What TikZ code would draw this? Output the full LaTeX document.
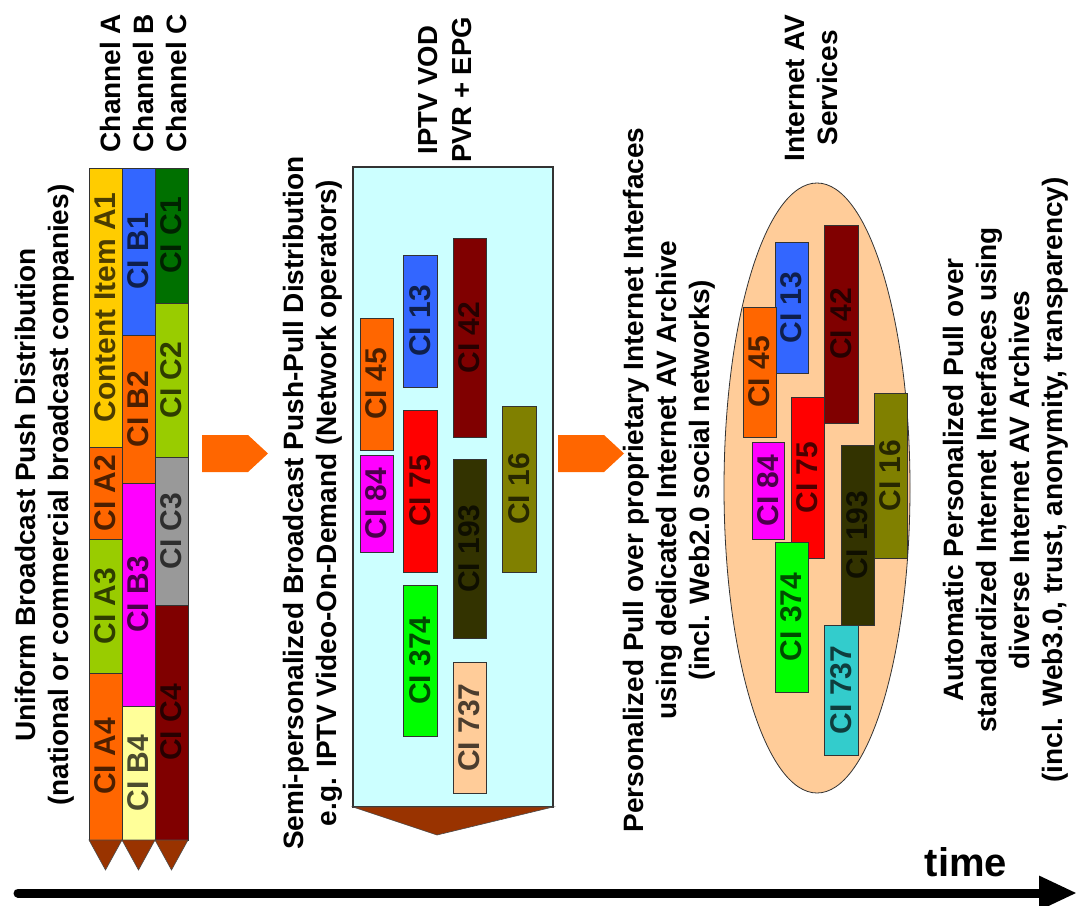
\documentclass[tikz,border=0pt]{standalone}
\usepackage{fontspec}
\setmainfont{Liberation Sans}
\usetikzlibrary{arrows.meta}

\definecolor{cigold}{HTML}{FFCC00}
\definecolor{ciblue}{HTML}{3366FF}
\definecolor{cidkgreen}{HTML}{007000}
\definecolor{ciorange}{HTML}{FF6600}
\definecolor{cilime}{HTML}{99CC00}
\definecolor{cigray}{HTML}{999999}
\definecolor{cimagenta}{HTML}{FF00FF}
\definecolor{cimaroon}{HTML}{800000}
\definecolor{cicream}{HTML}{FFFF99}
\definecolor{cired}{HTML}{FF0000}
\definecolor{cimud}{HTML}{333300}
\definecolor{ciolive}{HTML}{808000}
\definecolor{cigreen}{HTML}{00FF00}
\definecolor{cipeach}{HTML}{FFCC99}
\definecolor{citeal}{HTML}{33CCCC}
\definecolor{cicyan}{HTML}{CCFFFF}
\definecolor{citip}{HTML}{993300}

\begin{document}
\begin{tikzpicture}[x=1pt, y=-1pt,
	ci/.style={draw=black!80, line width=0.8pt, fill=#1, text=#1!30!black, rotate=90, inner sep=0pt, font=\bfseries\fontsize{30}{34}\selectfont},
	heading/.style={rotate=90, align=center, font=\bfseries\fontsize{28}{33}\selectfont},
	tip/.style={fill=citip, draw=black!70, line width=0.6pt},
	push/.style={fill=ciorange}]
	\useasboundingbox (0,0) rectangle (1078,905);

	% broadcast channels
	\node[heading] (uniform) at (45,495) {Uniform Broadcast Push Distribution\\(national or commercial broadcast companies)};
	\node[heading] (cha) at (110,83) {Channel A};
	\node[heading] (chb) at (143,83) {Channel B};
	\node[heading] (chc) at (176,83) {Channel C};

	\node[ci=cigold, minimum width=279pt, minimum height=33pt] (a1) at (105.5,307.5) {Content Item A1};
	\node[ci=ciorange, minimum width=92pt, minimum height=33pt] (a2) at (105.5,493) {CI A2};
	\node[ci=cilime, minimum width=134pt, minimum height=33pt] (a3) at (105.5,606) {CI A3};
	\node[ci=ciorange, minimum width=167pt, minimum height=33pt] (a4) at (105.5,756.5) {CI A4};

	\node[ci=ciblue, minimum width=167pt, minimum height=33pt] (b1) at (138.5,251.5) {CI B1};
	\node[ci=ciorange, minimum width=148pt, minimum height=33pt] (b2) at (138.5,409) {CI B2};
	\node[ci=cimagenta, minimum width=223pt, minimum height=33pt] (b3) at (138.5,594.5) {CI B3};
	\node[ci=cicream, minimum width=134pt, minimum height=33pt] (b4) at (138.5,773) {CI B4};

	\node[ci=cidkgreen, minimum width=135pt, minimum height=33pt] (c1) at (171.5,235.5) {CI C1};
	\node[ci=cilime, minimum width=154pt, minimum height=33pt] (c2) at (171.5,380) {CI C2};
	\node[ci=cigray, minimum width=148pt, minimum height=33pt] (c3) at (171.5,531) {CI C3};
	\node[ci=cimaroon, minimum width=235pt, minimum height=33pt] (c4) at (171.5,722.5) {CI C4};

	\foreach \l/\r in {89/122, 122/155, 155/188}
		\filldraw[tip] (\l,840) -- (\r,840) -- ({(\l+\r)/2},870) -- cycle;

	\fill[push] (202,435) -- (248,435) -- (268,453.5) -- (248,472) -- (202,472) -- cycle;

	% IPTV video on demand
	\node[heading] (semi) at (313,503) {Semi-personalized Broadcast Push-Pull Distribution\\e.g. IPTV Video-On-Demand (Network operators)};
	\node[heading, font=\bfseries\fontsize{27.5}{34}\selectfont] (iptv) at (445,90) {IPTV VOD\\PVR + EPG};
	\draw[fill=cicyan, draw=black!80, line width=1.2pt] (353,167) rectangle (553,807);
	\filldraw[tip] (353,807) -- (553,807) -- (437,835) -- cycle;

	\node[ci=ciorange, minimum width=132pt, minimum height=33pt] (v45) at (376.5,384) {CI 45};
	\node[ci=cimagenta, minimum width=97pt, minimum height=33pt] (v84) at (376.5,503.5) {CI 84};
	\node[ci=ciblue, minimum width=132pt, minimum height=34pt] (v13) at (420,321) {CI 13};
	\node[ci=cired, minimum width=162pt, minimum height=34pt] (v75) at (420,491) {CI 75};
	\node[ci=cigreen, minimum width=151pt, minimum height=34pt] (v374) at (420,660.5) {CI 374};
	\node[ci=cimaroon, minimum width=199pt, minimum height=33pt] (v42) at (469.5,337.5) {CI 42};
	\node[ci=cimud, minimum width=179pt, minimum height=33pt] (v193) at (469.5,548.5) {CI 193};
	\node[ci=cipeach, minimum width=131pt, minimum height=33pt] (v737) at (469.5,727.5) {CI 737};
	\node[ci=ciolive, minimum width=166pt, minimum height=34pt] (v16) at (519,489) {CI 16};

	\fill[push] (558,435) -- (604,435) -- (624,453.5) -- (604,472) -- (558,472) -- cycle;

	% internet archives
	\node[heading] (pull) at (669,480) {Personalized Pull over proprietary Internet Interfaces\\using dedicated Internet AV Archive\\(incl. Web2.0 social networks)};
	\node[heading] (inet) at (811,88) {Internet AV\\Services};
	\draw[fill=cipeach, draw=black!80, line width=0.8pt] (817,488) ellipse [x radius=93, y radius=305];

	\node[ci=ciblue, minimum width=131pt, minimum height=33pt] (i13) at (791.5,307.5) {CI 13};
	\node[ci=ciorange, minimum width=130pt, minimum height=33pt] (i45) at (759.5,372) {CI 45};
	\node[ci=cimaroon, minimum width=198pt, minimum height=34pt] (i42) at (841,324) {CI 42};
	\node[ci=cimagenta, minimum width=97pt, minimum height=32pt] (i84) at (768,490.5) {CI 84};
	\node[ci=cired, minimum width=161pt, minimum height=33pt] (i75) at (807.5,477.5) {CI 75};
	\node[ci=cigreen, minimum width=150pt, minimum height=33pt] (i374) at (791.5,617) {CI 374};
	\node[ci=cimud, minimum width=180pt, minimum height=33pt] (i193) at (857.5,535) {CI 193};
	\node[ci=ciolive, minimum width=165pt, minimum height=33pt] (i16) at (890.5,475.5) {CI 16};
	\node[ci=citeal, minimum width=130pt, minimum height=34pt] (i737) at (841,690) {CI 737};

	\node[heading] (auto) at (1006,480) {Automatic Personalized Pull over\\standardized Internet Interfaces using\\diverse Internet AV Archives\\(incl. Web3.0, trust, anonymity, transparency)};

	% time axis
	\node[font=\bfseries\fontsize{40}{44}\selectfont] (time) at (966,862) {time};
	\coordinate (t0) at (18,893);
	\coordinate (t1) at (1077,893);
	\draw[line width=9pt, line cap=round, -{Triangle[length=38pt, width=32pt]}] (t0) -- (t1);
\end{tikzpicture}
\end{document}
